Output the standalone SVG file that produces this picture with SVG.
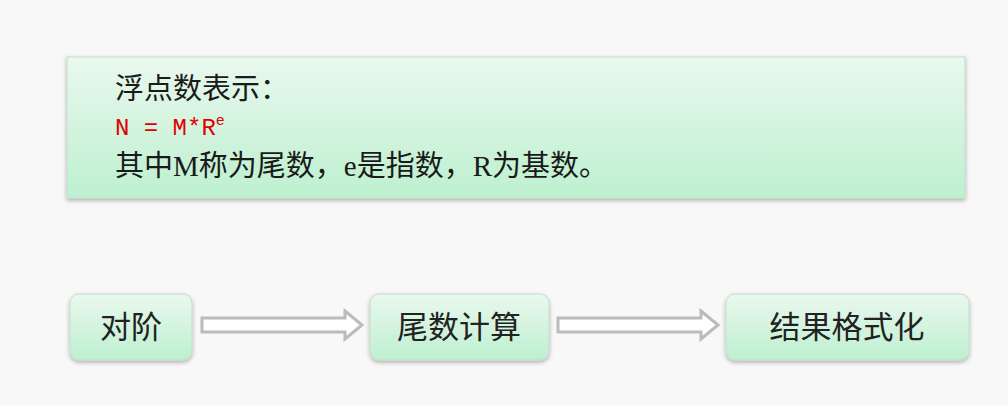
<svg xmlns="http://www.w3.org/2000/svg" width="1008" height="405" viewBox="0 0 1008 405">
<defs>
<linearGradient id="g" x1="0" y1="0" x2="0" y2="1"><stop offset="0" stop-color="#eaf8ee"/><stop offset="1" stop-color="#bdf0cf"/></linearGradient>
<filter id="s" x="-5%" y="-10%" width="110%" height="130%"><feDropShadow dx="0" dy="2" stdDeviation="2" flood-color="#000" flood-opacity="0.3"/></filter>
<style>
.b{fill:url(#g);stroke:#c4dccb;stroke-width:1;filter:url(#s)}
.t{font-family:"Liberation Serif","Noto Sans CJK SC",serif;font-size:29px;fill:#1a1a1a}
.n{font-family:"Noto Sans CJK SC",sans-serif;font-size:31px;fill:#222;text-anchor:middle}
.a{fill:#fff;stroke:#bbb;stroke-width:3}
</style>
</defs>
<rect width="1008" height="405" fill="#f8f8f8"/>
<g id="info">
<rect class="b" x="67" y="57" width="898" height="141"/>
<text class="t" x="115" y="99">浮点数表示：</text>
<text class="t" x="115" y="135" style="fill:#e00000;font-family:'Liberation Mono',monospace;font-size:24px">N = M*R<tspan font-size="15" dy="-10">e</tspan></text>
<text class="t" x="115" y="176">其中M称为尾数，e是指数，R为基数。</text>
</g>
<g id="n1"><rect class="b" x="70" y="294" width="122" height="66" rx="9"/><text class="n" x="131" y="338">对阶</text></g>
<g id="n2"><rect class="b" x="370" y="294" width="179" height="66" rx="9"/><text class="n" x="459" y="338">尾数计算</text></g>
<g id="n3"><rect class="b" x="726" y="294" width="243" height="66" rx="9"/><text class="n" x="847" y="338">结果格式化</text></g>
<g id="connectors">
<path class="a" d="M202,318 H345 V311 L362,325 L345,339 V332 H202 Z"/>
<path class="a" d="M558,318 H701 V311 L718,325 L701,339 V332 H558 Z"/>
</g>
</svg>
